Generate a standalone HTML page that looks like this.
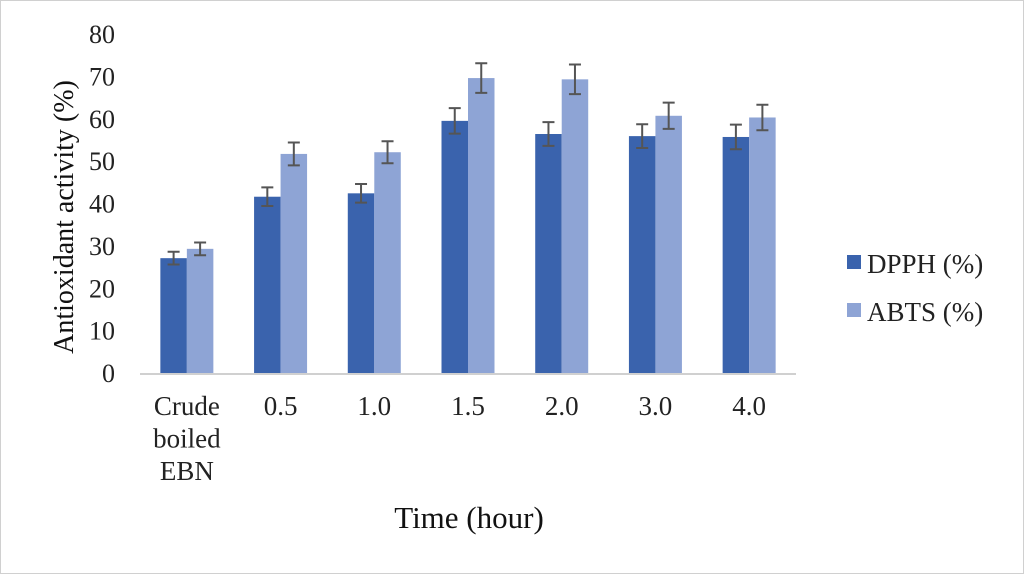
<!DOCTYPE html>
<html><head><meta charset="utf-8"><style>
body{margin:0;background:#fff}
svg{display:block;font-family:"Liberation Serif",serif}
</style></head><body>
<svg id="c" width="1024" height="574" viewBox="0 0 1024 574">
<rect x="0.5" y="0.5" width="1023" height="573" fill="#fff" stroke="#d0d0d0"/>
</svg>
<script>
const categories=["Crude boiled EBN","0.5","1.0","1.5","2.0","3.0","4.0"];
const dpph=[27.1,41.6,42.4,59.5,56.4,55.9,55.7];
const abts=[29.3,51.7,52.1,69.6,69.3,60.7,60.3];
const dpphErr=[1.5,2.2,2.2,3.0,2.8,2.8,2.9];
const abtsErr=[1.5,2.7,2.6,3.5,3.5,3.1,3.0];
const yTicks=[0,10,20,30,40,50,60,70,80];
const svg=document.getElementById('c');
const NS='http://www.w3.org/2000/svg';
const x0=140,x1=796,y0=373,yTop=34;
const y=v=>y0-(v/80)*(y0-yTop);
const band=(x1-x0)/categories.length;
const cx=i=>x0+band*(i+0.5);
const bw=26.5;
function mk(t,a,p){const e=document.createElementNS(NS,t);for(const k in a)e.setAttribute(k,a[k]);(p||svg).appendChild(e);return e;}
yTicks.forEach(t=>{const e=mk('text',{x:115,y:y(t)+9,'text-anchor':'end','font-size':26,fill:'#222'});e.textContent=t;

});
function series(vals,errs,off,color,name){
vals.forEach((v,i)=>{const bx=cx(i)+off;
const r=mk('rect',{x:bx,y:y(v),width:bw,height:y0-y(v),fill:color});


const m=bx+bw/2,hi=y(v+errs[i]),lo=y(v-errs[i]);
const g=mk('path',{d:`M${m},${hi}V${lo}M${m-6},${hi}H${m+6}M${m-6},${lo}H${m+6}`,stroke:'#555','stroke-width':2,fill:'none'});

});}
series(dpph,dpphErr,-bw,'#3a63ad','dpph');
series(abts,abtsErr,0,'#8ea4d5','abts');
const ax=mk('line',{x1:x0,x2:x1,y1:y0+1,y2:y0+1,stroke:'#d0d0d0','stroke-width':2});


categories.forEach((c,i)=>{const lines=c.split(' ');lines.forEach((l,j)=>{
const e=mk('text',{x:cx(i),y:415+j*32.5,'text-anchor':'middle','font-size':27,fill:'#222'});e.textContent=l;

});});
const xt=mk('text',{x:469,y:528,'text-anchor':'middle','font-size':31,fill:'#111'});xt.textContent='Time (hour)';


const yt=mk('text',{transform:'translate(73,217) rotate(-90)','text-anchor':'middle','font-size':28,fill:'#111'});yt.textContent='Antioxidant  activity (%)';


[['DPPH (%)','#3a63ad',273],['ABTS (%)','#8ea4d5',321]].forEach(([t,col,ly])=>{
const g=mk('g',{});


mk('rect',{x:847,y:ly-18,width:14,height:14,fill:col},g);
const e=mk('text',{x:867,y:ly,'font-size':27,fill:'#222'},g);e.textContent=t;});
</script>
</body></html>
